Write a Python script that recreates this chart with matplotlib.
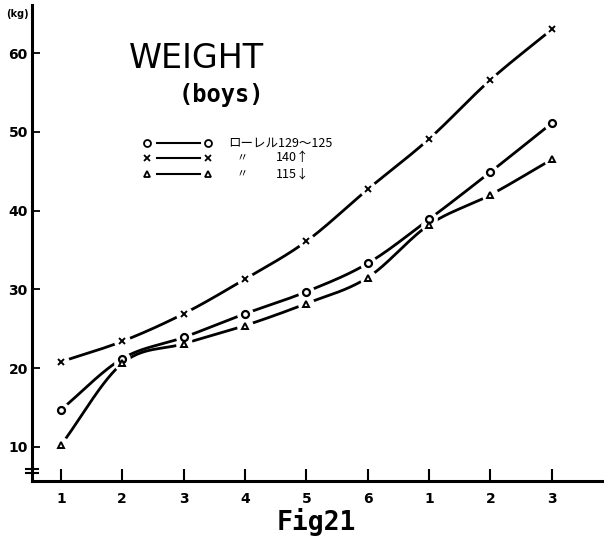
import numpy as np
import matplotlib
matplotlib.use("Agg")
import matplotlib.pyplot as plt
from matplotlib.lines import Line2D

# ---- data ----
x_labels = ["1", "2", "3", "4", "5", "6", "1", "2", "3"]
y_ticks = [10, 20, 30, 40, 50, 60]
laurel_normal = [14.7, 21.2, 23.9, 26.9, 29.7, 33.3, 38.9, 44.9, 51.1]   # ローレル129〜125
laurel_high   = [20.8, 23.4, 26.9, 31.3, 36.1, 42.7, 49.1, 56.6, 63.0]   # 140↑
laurel_low    = [10.2, 20.6, 23.1, 25.4, 28.2, 31.5, 38.2, 42.0, 46.5]   # 115↓

plt.rcParams['font.family'] = ['DejaVu Sans']

fig = plt.figure(figsize=(6.04, 5.47), dpi=100)
W, H = 604, 547
ax = fig.add_axes([32 / W, (H - 481) / H, (W - 32) / W, (481 - 5) / H])

xs = np.arange(1, len(x_labels) + 1)


def smooth(x, y, n=30):
    # Catmull-Rom spline through the data points (rendering only)
    x = np.asarray(x, float); y = np.asarray(y, float)
    P = np.column_stack([x, y])
    P = np.vstack([2 * P[0] - P[1], P, 2 * P[-1] - P[-2]])
    out = []
    t = np.linspace(0, 1, n)
    for i in range(1, len(P) - 2):
        p0, p1, p2, p3 = P[i - 1], P[i], P[i + 1], P[i + 2]
        tt = t[:, None]
        c = 0.5 * ((2 * p1) + (-p0 + p2) * tt + (2 * p0 - 5 * p1 + 4 * p2 - p3) * tt ** 2
                   + (-p0 + 3 * p1 - 3 * p2 + p3) * tt ** 3)
        out.append(c if i == 1 else c[1:])
    c = np.vstack(out)
    return c[:, 0], c[:, 1]


series = [
    (laurel_high, 'x', 5, 1.4),
    (laurel_normal, 'o', 5, 1.6),
    (laurel_low, '^', 5, 1.4),
]
for vals, m, ms, mew in series:
    sx, sy = smooth(xs, vals)
    ax.plot(sx, sy, color='black', lw=2.0, solid_capstyle='round', zorder=2)
for vals, m, ms, mew in series:
    # white halo to create the gap around each marker
    ax.plot(xs, vals, linestyle='none', marker='o', ms=ms + 6, mfc='white', mec='white', zorder=3)
    ax.plot(xs, vals, linestyle='none', marker=m, ms=ms, mfc='white', mec='black', mew=mew, zorder=4)

ax.set_xlim(0.53, 9.85)
ax.set_ylim(5.67, 66.1)
ax.set_xticks(xs)
ax.set_xticklabels(x_labels, fontsize=10, fontweight='bold')
ax.set_yticks(y_ticks)
ax.set_yticklabels([str(v) for v in y_ticks], fontsize=10, fontweight='bold')
ax.tick_params(axis='x', direction='in', length=9, width=1.5, pad=8)
ax.tick_params(axis='y', direction='in', length=6, width=1.3, pad=3)
for s in ['top', 'right']:
    ax.spines[s].set_visible(False)
ax.spines['left'].set_linewidth(2.2)
ax.spines['bottom'].set_linewidth(2.2)
ax.patch.set_alpha(0)

# axis break mark on y-axis
for yy in (469, 473):
    fig.add_artist(Line2D([26 / W, 38 / W], [(H - yy) / H, (H - yy) / H], color='black', lw=1.5))

fig.text(17 / W, (H - 14) / H, "(kg)", fontsize=7, fontweight='bold', ha='center', va='center')

# titles
fig.text(196 / W, (H - 59) / H, "WEIGHT", fontsize=24, family='DejaVu Sans',
         ha='center', va='center')
fig.text(221 / W, (H - 95) / H, "(boys)", fontsize=17, family='DejaVu Sans Mono',
         fontweight='bold', ha='center', va='center')

# manual legend
rows = [(143, 'o', "ローレル129〜125", None), (158, 'x', "〃", "140↑"), (174, '^', "〃", "115↓")]
for yy, m, t1, t2 in rows:
    yf = (H - yy) / H
    fig.add_artist(Line2D([157 / W, 200 / W], [yf, yf], color='black', lw=1.5))
    for xx in (147, 208):
        fig.add_artist(Line2D([xx / W], [yf], marker=m, ms=5, mfc='white', mec='black', mew=1.3, linestyle='none'))
    if t2 is None:
        fig.text(228 / W, yf, t1, fontsize=9, family=['Noto Sans CJK JP', 'DejaVu Sans'], va='center')
    else:
        fig.text(242 / W, yf, t1, fontsize=8, family=['Noto Sans CJK JP', 'DejaVu Sans'], va='center', ha='center')
        fig.text(276 / W, yf, t2, fontsize=9, family=['Noto Sans CJK JP', 'DejaVu Sans'], va='center')

fig.text(316 / W, (H - 522) / H, "Fig21", fontsize=19, family='DejaVu Sans Mono',
         fontweight='bold', ha='center', va='center')

fig.savefig("out.png", dpi=100, facecolor='white')
